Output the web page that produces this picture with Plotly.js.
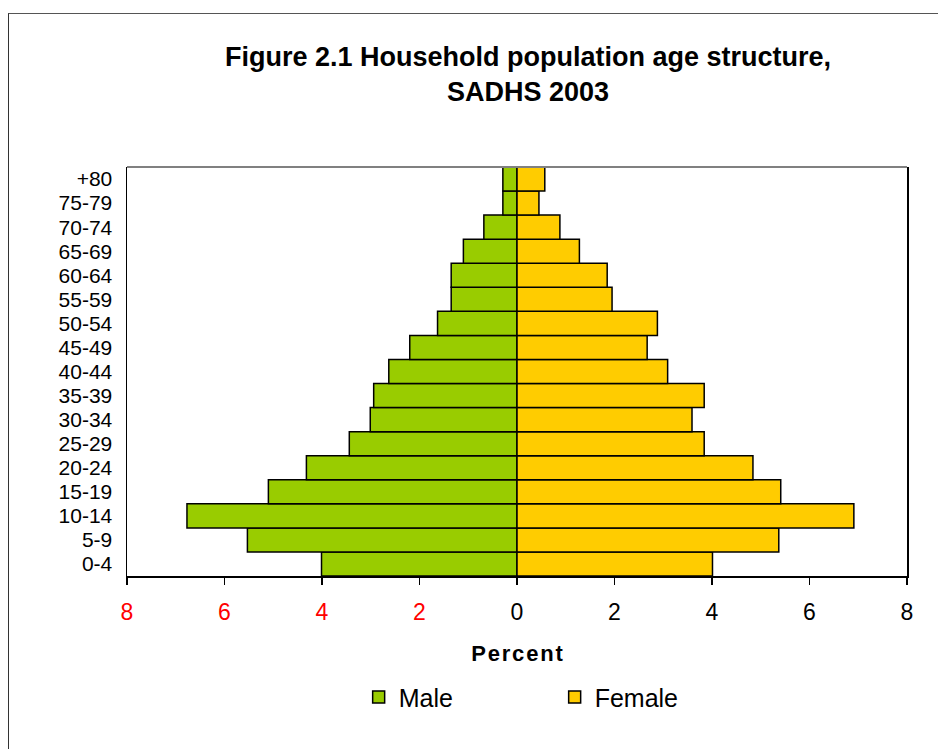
<!DOCTYPE html>
<html>
<head>
<meta charset="utf-8">
<script src="https://cdn.plot.ly/plotly-3.0.1.min.js"></script>
<style>
  html, body { margin:0; padding:0; width:938px; height:749px; overflow:hidden; background:#fff; }
  #frame { position:absolute; left:8px; top:13px; width:1000px; height:1000px;
           border-left:1.5px solid #333; border-top:1.5px solid #555; box-sizing:border-box; pointer-events:none; z-index:5; }
  #chart { position:absolute; left:0; top:0; width:938px; height:749px; }
</style>
</head>
<body>
<div id="chart"></div>
<div id="frame"></div>
<script>
const ageGroups = ["0-4","5-9","10-14","15-19","20-24","25-29","30-34","35-39","40-44","45-49","50-54","55-59","60-64","65-69","70-74","75-79","+80"];
const malePct   = [4.01, 5.53, 6.77, 5.10, 4.32, 3.44, 3.01, 2.94, 2.63, 2.20, 1.63, 1.35, 1.35, 1.10, 0.68, 0.29, 0.29];
const femalePct = [4.01, 5.37, 6.91, 5.41, 4.84, 3.84, 3.59, 3.84, 3.09, 2.67, 2.88, 1.95, 1.85, 1.28, 0.88, 0.45, 0.57];
const tickVals  = [-8, -6, -4, -2, 0, 2, 4, 6, 8];
const tickLabels = ["8", "6", "4", "2", "0", "2", "4", "6", "8"];

const font = "Arial, 'Liberation Sans', sans-serif";
const hs = '\u200A';

const tickText = tickVals.map((v, i) => v < 0 ? '<span style="color:#FF0000">' + tickLabels[i] + '</span>' : tickLabels[i]);

const traces = [
  {
    type: 'bar', orientation: 'h', name: 'Male',
    y: ageGroups, x: malePct.map(v => -v),
    marker: { color: '#99CC00', line: { color: '#000000', width: 1.5 } },
    hoverinfo: 'skip'
  },
  {
    type: 'bar', orientation: 'h', name: 'Female',
    y: ageGroups, x: femalePct,
    marker: { color: '#FFCC00', line: { color: '#000000', width: 1.5 } },
    hoverinfo: 'skip'
  }
];

const layout = {
  width: 938, height: 749,
  margin: { l: 127, r: 31, t: 167, b: 173 },
  paper_bgcolor: '#ffffff', plot_bgcolor: '#ffffff',
  barmode: 'relative', bargap: 0,
  font: { family: font, color: '#000000', size: 22 },
  title: {
    text: '<b>Figure 2.1 Household population age structure,<br>SADHS 2003</b>',
    font: { family: font, size: 27, color: '#000000' },
    x: 0.563, xref: 'container', xanchor: 'center',
    y: 1 - 66/749, yref: 'container', yanchor: 'top'
  },
  xaxis: {
    range: [-8, 8], tickmode: 'array', tickvals: tickVals, ticktext: tickText,
    showgrid: false, zeroline: false,
    showline: true, linecolor: '#000000', linewidth: 1.5, mirror: false,
    ticks: 'outside', ticklen: 7, tickwidth: 1.5, tickcolor: '#000000',
    ticklabelstandoff: 8,
    tickfont: { family: font, size: 23, color: '#000000' },
    title: { text: '<b>' + 'Percent'.split('').join(hs) + '</b>', font: { family: font, size: 22, color: '#000000' }, standoff: 21 },
    fixedrange: true
  },
  yaxis: {
    type: 'category', categoryorder: 'array', categoryarray: ageGroups,
    tickmode: 'array', tickvals: ageGroups, ticktext: ageGroups,
    showgrid: false, zeroline: false,
    showline: true, linecolor: '#000000', linewidth: 1.5, mirror: true,
    ticks: '', ticklabelstandoff: 9,
    tickfont: { family: font, size: 21, color: '#000000' },
    fixedrange: true
  },
  shapes: [
    { type: 'line', xref: 'paper', yref: 'paper', x0: 0, x1: 1, y0: 1, y1: 1,
      line: { color: '#808080', width: 2 } }
  ],
  showlegend: true,
  legend: {
    orientation: 'h', x: 0.297, xanchor: 'left', xref: 'paper',
    y: -0.24, yanchor: 'top',
    font: { family: font, size: 25, color: '#000000' },
    entrywidth: 151, entrywidthmode: 'pixels',
    traceorder: 'normal', itemclick: false, itemdoubleclick: false
  }
};

Plotly.newPlot('chart', traces, layout, { staticPlot: true, displayModeBar: false });
</script>
</body>
</html>
